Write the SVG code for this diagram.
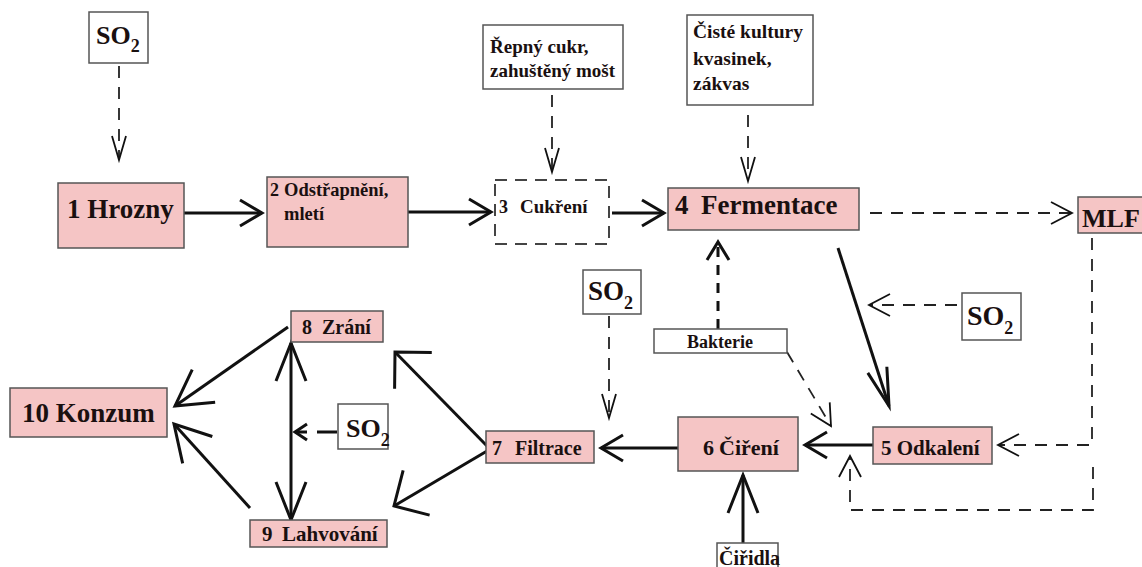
<svg xmlns="http://www.w3.org/2000/svg" width="1142" height="567" viewBox="0 0 1142 567">
<style>
text{font-family:"Liberation Serif","Times New Roman",serif;font-weight:bold;fill:#1a1010}
.p{fill:#f5c5c5;stroke:#555;stroke-width:1.5}
.w{fill:#fff;stroke:#555;stroke-width:1.5}
.d{fill:#fff;stroke:#444;stroke-width:2;stroke-dasharray:12,8}
.s{fill:none;stroke:#111;stroke-width:3}
.t{fill:none;stroke:#222;stroke-width:1.8;stroke-dasharray:12,9}
.tk{fill:none;stroke:#111;stroke-width:3;stroke-dasharray:10,8}
.mk{fill:none;stroke:#111;stroke-linejoin:miter}
</style>
<defs>
<marker id="mA" markerUnits="userSpaceOnUse" markerWidth="40" markerHeight="40" orient="auto" overflow="visible"><path class="mk" stroke-width="3" d="M-22,-13 L0,0 L-22,13"/></marker>
<marker id="mT" markerUnits="userSpaceOnUse" markerWidth="40" markerHeight="40" orient="auto" overflow="visible"><path class="mk" stroke-width="1.8" d="M-24,-7 L0,0 L-24,7"/></marker>
<marker id="mS" markerUnits="userSpaceOnUse" markerWidth="40" markerHeight="40" orient="auto" overflow="visible"><path class="mk" stroke-width="1.8" d="M-21,-11 L0,0 L-21,11"/></marker>
<marker id="mL" markerUnits="userSpaceOnUse" markerWidth="40" markerHeight="40" orient="auto" overflow="visible"><path class="mk" stroke-width="3" d="M-35,-20 L0,0 L-35,20"/></marker>
<marker id="mV" markerUnits="userSpaceOnUse" markerWidth="40" markerHeight="40" orient="auto" overflow="visible"><path class="mk" stroke-width="3" d="M-38,-15 L0,0 L-38,15"/></marker>
<marker id="mW" markerUnits="userSpaceOnUse" markerWidth="40" markerHeight="40" orient="auto" overflow="visible"><path class="mk" stroke-width="3" d="M-26,-26 L0,0 L-26,26"/></marker>
<marker id="mF" markerUnits="userSpaceOnUse" markerWidth="40" markerHeight="40" orient="auto" overflow="visible"><path class="mk" stroke-width="3" d="M-38,-10 L0,0 L-38,10"/></marker>
<marker id="mB" markerUnits="userSpaceOnUse" markerWidth="40" markerHeight="40" orient="auto" overflow="visible"><path class="mk" stroke-width="3" d="M-18,-11 L0,0 L-18,11"/></marker>
<marker id="mSm" markerUnits="userSpaceOnUse" markerWidth="40" markerHeight="40" orient="auto" overflow="visible"><path class="mk" stroke-width="3" d="M-12,-8 L0,0 L-12,8"/></marker>
</defs>
<rect width="1142" height="567" fill="#fff"/>

<g id="connectors">
<path class="t" d="M119,66 V160" marker-end="url(#mT)"/>
<path class="s" d="M184,213 H262" marker-end="url(#mA)"/>
<path class="s" d="M408,212 H491" marker-end="url(#mA)"/>
<path class="t" d="M552,95 V172" marker-end="url(#mT)"/>
<path class="s" d="M612,213 H664" marker-end="url(#mA)"/>
<path class="t" d="M748,115 V181" marker-end="url(#mT)"/>
<path class="t" stroke-dasharray="9,8" d="M870,213 H1072" marker-end="url(#mS)"/>
<path class="t" stroke-dasharray="24,12" d="M1092,238 V445 H998" marker-end="url(#mS)"/>
<path class="t" stroke-dasharray="22,7,5,7" d="M1093,467 V510 H850 V456" marker-end="url(#mS)"/>
<path class="tk" d="M718,329 V242" marker-end="url(#mB)"/>
<path class="t" d="M787,352 L831,426" marker-end="url(#mS)"/>
<path class="s" d="M838,248 L889,406" marker-end="url(#mF)"/>
<path class="t" d="M957,305 H869" marker-end="url(#mS)"/>
<path class="s" d="M873,445 H805" marker-end="url(#mA)"/>
<path class="s" d="M743,543 V475" marker-end="url(#mV)"/>
<path class="t" d="M609,316 V418" marker-end="url(#mT)"/>
<path class="s" d="M678,448 H601" marker-end="url(#mA)"/>
<path class="s" d="M487,446 L395,352" marker-end="url(#mW)"/>
<path class="s" d="M487,451 L394,506" marker-end="url(#mW)"/>
<path class="s" d="M291,360 V343" marker-end="url(#mV)"/>
<path class="s" d="M291,360 V520" marker-end="url(#mV)"/>
<path class="s" stroke-dasharray="20,10" d="M337,432 H295" marker-end="url(#mSm)"/>
<path class="s" d="M288,327 L175,406" marker-end="url(#mL)"/>
<path class="s" d="M250,508 L174,424" marker-end="url(#mL)"/>
</g>

<g id="so2-top"><rect class="w" x="89" y="12" width="59" height="51"/><text x="96" y="44" font-size="26">SO<tspan font-size="18" dy="8">2</tspan></text></g>
<g id="repny-cukr"><rect class="w" x="483" y="25" width="140" height="64"/><text x="490" y="53" font-size="19">Řepný cukr,</text><text x="490" y="77" font-size="19">zahuštěný mošt</text></g>
<g id="ciste-kultury"><rect class="w" x="687" y="15" width="126" height="90"/><text x="693" y="38" font-size="19.5">Čisté kultury</text><text x="693" y="65" font-size="19.5">kvasinek,</text><text x="693" y="90" font-size="19.5">zákvas</text></g>
<g id="n1-hrozny"><rect class="p" x="58" y="183" width="126" height="65"/><text x="67" y="218" font-size="27">1 Hrozny</text></g>
<g id="n2-odstrapneni"><rect class="p" x="267" y="177" width="141" height="70"/><text x="270" y="196" font-size="18">2</text><text x="284" y="196" font-size="18.5">Odstřapnění,</text><text x="284" y="220" font-size="18.5">mletí</text></g>
<g id="n3-cukreni"><rect class="d" x="495" y="180" width="114" height="64"/><text x="499" y="213" font-size="18">3</text><text x="520" y="213" font-size="19">Cukření</text></g>
<g id="n4-fermentace"><rect class="p" x="668" y="188" width="191" height="42"/><text x="675" y="214" font-size="27">4</text><text x="701" y="214" font-size="27">Fermentace</text></g>
<g id="mlf"><rect class="p" x="1078" y="197" width="70" height="36"/><text x="1082" y="227" font-size="26">MLF</text></g>
<g id="bakterie"><rect class="w" x="654" y="329" width="133" height="24"/><text x="720" y="348" font-size="18" text-anchor="middle">Bakterie</text></g>
<g id="so2-mid"><rect class="w" x="583" y="270" width="58" height="44"/><text x="588" y="300" font-size="27">SO<tspan font-size="18" dy="9">2</tspan></text></g>
<g id="so2-right"><rect class="w" x="962" y="293" width="59" height="47"/><text x="967" y="325" font-size="28">SO<tspan font-size="18" dy="9">2</tspan></text></g>
<g id="n5-odkaleni"><rect class="p" x="873" y="427" width="119" height="37"/><text x="881" y="455" font-size="21">5 Odkalení</text></g>
<g id="n6-cireni"><rect class="p" x="678" y="417" width="120" height="54"/><text x="703" y="455" font-size="22">6</text><text x="719" y="455" font-size="22">Čiření</text></g>
<g id="ciridla"><rect class="w" x="717" y="543" width="61" height="30"/><text x="719" y="565" font-size="20">Čiřidla</text></g>
<g id="n7-filtrace"><rect class="p" x="486" y="431" width="108" height="32"/><text x="492" y="455" font-size="20" fill="#5a2a2a">7</text><text x="515" y="455" font-size="20">Filtrace</text></g>
<g id="n8-zrani"><rect class="p" x="291" y="311" width="92" height="31"/><text x="302" y="334" font-size="20">8</text><text x="322" y="334" font-size="20">Zrání</text></g>
<g id="n9-lahvovani"><rect class="p" x="250" y="520" width="137" height="27"/><text x="262" y="541" font-size="21">9</text><text x="282" y="541" font-size="21">Lahvování</text></g>
<g id="n10-konzum"><rect class="p" x="10" y="388" width="157" height="49"/><text x="22" y="422" font-size="27">10 Konzum</text></g>
<g id="so2-left"><rect class="w" x="338" y="404" width="50" height="45"/><text x="346" y="437" font-size="26">SO<tspan font-size="18" dy="9">2</tspan></text></g>
</svg>
